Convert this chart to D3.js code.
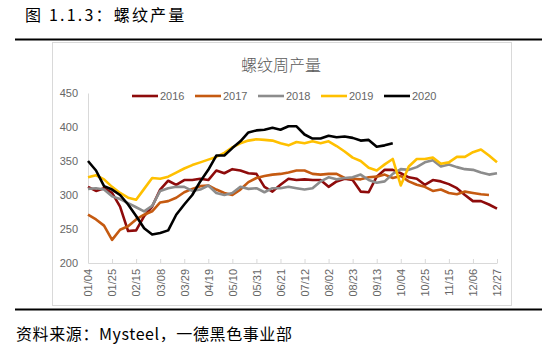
<!DOCTYPE html>
<html>
<head>
<meta charset="utf-8">
<script src="https://cdn.jsdelivr.net/npm/d3@7"></script>
<style>
  body { margin: 0; background: #fff; }
  svg { display: block; }
  text { font-family: "Liberation Sans", Arial, sans-serif; }
  .cjk { font-family: "Noto Sans CJK SC", sans-serif; }
</style>
</head>
<body>
<svg width="550" height="353"></svg>
<script>
const weeks = ["01/04","01/11","01/18","01/25","02/01","02/08","02/15","02/22","03/01","03/08",
  "03/15","03/22","03/29","04/05","04/12","04/19","04/26","05/03","05/10","05/17",
  "05/24","05/31","06/07","06/14","06/21","06/28","07/05","07/12","07/19","07/26",
  "08/02","08/09","08/16","08/23","08/30","09/06","09/13","09/20","09/27","10/04",
  "10/11","10/18","10/25","11/01","11/08","11/15","11/22","11/29","12/06","12/13",
  "12/20","12/27"];

const tickWeeks = ["01/04","01/25","02/15","03/08","03/29","04/19","05/10","05/31","06/21",
  "07/12","08/02","08/23","09/13","10/04","10/25","11/15","12/06","12/27"];

const yTicks = [200, 250, 300, 350, 400, 450];

const years = ["2016", "2017", "2018", "2019", "2020"];
const colors = ["#8e0b0b", "#c55a11", "#8c8c8c", "#ffc000", "#000000"];

const s2016 = [312,306,310,303,283,247,248,269,283,308,321,315,322,322,324,322,336,332,338,336,
  332,331,312,305,315,324,322,323,322,322,312,320,324,322,305,304,327,337,337,332,
  326,324,315,322,320,316,310,300,291,291,286,280];
const s2017 = [271,264,255,234,249,254,264,271,276,289,291,296,304,309,313,314,308,303,300,308,
  319,325,328,330,331,333,336,336,331,330,331,331,325,324,323,326,327,330,325,328,
  320,315,312,306,308,303,301,305,303,301,300];
const s2018 = [309,310,308,298,294,288,282,276,284,306,310,312,312,306,308,314,303,300,303,312,
  309,310,304,310,310,312,310,308,310,320,326,323,325,326,330,322,318,320,331,338,
  337,341,348,351,342,345,341,338,337,333,330,332];
const s2019 = [326,329,323,312,303,296,293,309,325,324,327,333,339,344,348,352,356,362,370,376,
  380,382,381,380,376,373,378,376,379,376,379,372,364,355,350,340,336,345,353,314,
  342,353,353,355,346,348,356,356,363,367,358,348];
const s2020 = [350,336,313,308,300,286,269,251,242,244,248,271,286,300,320,337,358,358,369,379,
  392,395,396,399,396,401,401,389,383,383,387,385,386,384,380,381,371,373,376];

const seriesValues = [s2016, s2017, s2018, s2019, s2020];

const svg = d3.select("svg");

// page title and rules
svg.append("text")
  .attr("class", "cjk")
  .attr("x", 25)
  .attr("y", 21)
  .attr("font-size", 16)
  .attr("letter-spacing", 2.2)
  .attr("fill", "#000")
  .text("图 1.1.3：螺纹产量");

svg.append("line").attr("x1", 15).attr("x2", 542).attr("y1", 39.5).attr("y2", 39.5)
  .attr("stroke", "#000").attr("stroke-width", 2);
svg.append("line").attr("x1", 15).attr("x2", 542).attr("y1", 309.5).attr("y2", 309.5)
  .attr("stroke", "#000").attr("stroke-width", 2);

// chart frame
svg.append("rect")
  .attr("x", 52.5).attr("y", 42.5).attr("width", 459).attr("height", 263)
  .attr("fill", "#fff").attr("stroke", "#d9d9d9");

svg.append("text")
  .attr("class", "cjk")
  .attr("x", 281)
  .attr("y", 71)
  .attr("text-anchor", "middle")
  .attr("font-size", 16)
  .attr("font-weight", 300)
  .attr("fill", "#595959")
  .text("螺纹周产量");

const xScale = d3.scalePoint().domain(weeks).range([88, 497]);
const yScale = d3.scaleLinear().domain([200, 450]).range([263, 93]);

// y axis
const yAxisG = svg.append("g")
  .attr("transform", "translate(88,0)")
  .call(d3.axisLeft(yScale).tickValues(yTicks).tickSize(0).tickPadding(10));
yAxisG.select(".domain").attr("stroke", "#d9d9d9");
yAxisG.selectAll("text")
  .attr("font-size", 11)
  .attr("fill", "#666")
  .attr("font-family", "Liberation Sans, Arial, sans-serif");

// x axis
const xAxisG = svg.append("g")
  .attr("transform", "translate(0,263)")
  .call(d3.axisBottom(xScale).tickValues(tickWeeks).tickSizeInner(-4).tickSizeOuter(0).tickPadding(6));
xAxisG.select(".domain").attr("stroke", "#d9d9d9");
xAxisG.selectAll(".tick line").attr("stroke", "#d9d9d9");
xAxisG.selectAll("text")
  .attr("font-size", 11)
  .attr("fill", "#666")
  .attr("font-family", "Liberation Sans, Arial, sans-serif")
  .attr("transform", "rotate(-90)")
  .attr("text-anchor", "end")
  .attr("x", -6)
  .attr("y", 0)
  .attr("dy", "0.35em");

// series lines
const line = d3.line()
  .x((d, i) => xScale(weeks[i]))
  .y(d => yScale(d));

svg.append("g")
  .selectAll("path")
  .data(seriesValues)
  .enter()
  .append("path")
  .attr("d", d => line(d))
  .attr("fill", "none")
  .attr("stroke", (d, i) => colors[i])
  .attr("stroke-width", 2.6)
  .attr("stroke-linejoin", "round");

// legend
const legend = svg.append("g")
  .selectAll("g")
  .data(years)
  .enter()
  .append("g")
  .attr("transform", (d, i) => `translate(${132 + i * 63},96)`);

legend.append("line")
  .attr("x1", 0).attr("x2", 26)
  .attr("stroke", (d, i) => colors[i])
  .attr("stroke-width", 2.6);

legend.append("text")
  .attr("x", 28)
  .attr("dy", "0.35em")
  .attr("font-size", 11)
  .attr("fill", "#666")
  .text(d => d);

// source note
svg.append("text")
  .attr("class", "cjk")
  .attr("x", 16)
  .attr("y", 340)
  .attr("font-size", 16)
  .attr("letter-spacing", 0.6)
  .attr("fill", "#000")
  .text("资料来源：Mysteel，一德黑色事业部");
</script>
</body>
</html>
